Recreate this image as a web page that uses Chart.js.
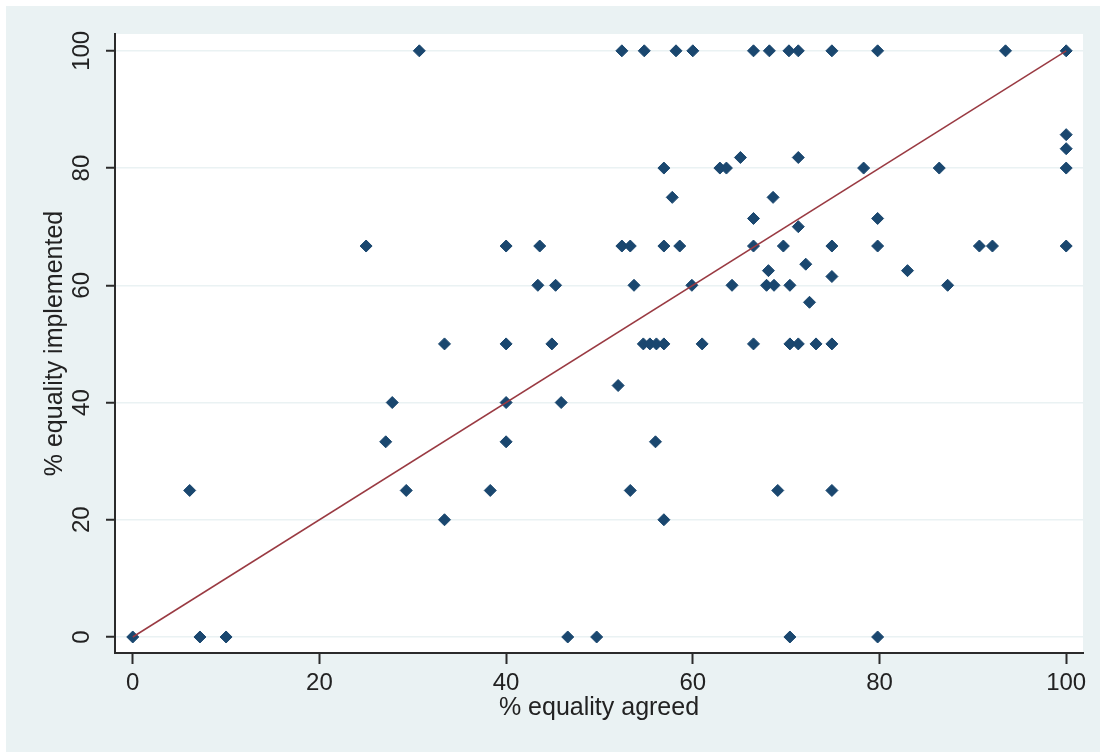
<!DOCTYPE html>
<html>
<head>
<meta charset="utf-8">
<script src="https://cdn.jsdelivr.net/npm/chart.js@4.4.1/dist/chart.umd.min.js"></script>
<style>
  html, body { margin: 0; padding: 0; background: #ffffff; }
  .okvir { position: absolute; left: 6px; top: 6px; width: 1094px; height: 746px; background: #eaf2f3; }
  canvas { display: block; }
</style>
</head>
<body>
<div class="okvir"><canvas id="grafik" width="1094" height="746"></canvas></div>
<script>
// % equality agreed (x) / % equality implemented (y), one entry per country pair
const agreed = [
  30.7, 52.4, 54.8, 58.2, 60, 66.5, 68.2, 70.3, 71.3, 74.9, 79.8, 93.5, 100,
  100, 100,
  65.1, 71.3,
  56.9, 62.9, 63.6, 78.3, 86.4, 100,
  57.8, 68.6,
  66.5, 79.8,
  71.3,
  25, 40, 43.6, 52.4, 53.3, 56.9, 58.6, 66.5, 69.7, 74.9, 79.8, 90.7, 92.1, 100,
  72.1, 68.1, 83.0, 74.9,
  43.4, 45.3, 53.7, 59.9, 64.2, 67.9, 68.7, 70.4, 87.3,
  72.5,
  33.4, 40, 44.9, 54.7, 55.4, 56.1, 56.9, 61.0, 66.5, 70.4, 71.3, 73.2, 74.9,
  52.0,
  27.8, 40, 45.9,
  27.1, 40, 56.0,
  6.1, 29.3, 38.3, 53.3, 69.1, 74.9,
  33.4, 56.9,
  0, 7.2, 10, 46.6, 49.7, 70.4, 79.8
];
const implemented = [
  100, 100, 100, 100, 100, 100, 100, 100, 100, 100, 100, 100, 100,
  85.7, 83.3,
  81.8, 81.8,
  80, 80, 80, 80, 80, 80,
  75, 75,
  71.4, 71.4,
  70,
  66.7, 66.7, 66.7, 66.7, 66.7, 66.7, 66.7, 66.7, 66.7, 66.7, 66.7, 66.7, 66.7, 66.7,
  63.6, 62.5, 62.5, 61.5,
  60, 60, 60, 60, 60, 60, 60, 60, 60,
  57.1,
  50, 50, 50, 50, 50, 50, 50, 50, 50, 50, 50, 50, 50,
  42.9,
  40, 40, 40,
  33.3, 33.3, 33.3,
  25, 25, 25, 25, 25, 25,
  20, 20,
  0, 0, 0, 0, 0, 0, 0
];
// linija jednakosti y = x
const lineX = [0, 100];
const lineY = [0, 100];
const xTicks = [0, 20, 40, 60, 80, 100];
const yTicks = [0, 20, 40, 60, 80, 100];

const font = "'Liberation Sans', Arial, sans-serif";
const tamna = "#2b2b2b";

let tacke = agreed.map((x, i) => ({ x: x, y: implemented[i] }));
let linija = lineX.map((x, i) => ({ x: x, y: lineY[i] }));

// bela povrsina grafika
const belaPozadina = {
  id: "belaPozadina",
  beforeDraw(chart) {
    const { ctx, chartArea: a } = chart;
    ctx.save();
    ctx.fillStyle = "#ffffff";
    ctx.fillRect(a.left, a.top, a.right - a.left, a.bottom - a.top);
    ctx.restore();
  }
};

new Chart(document.getElementById("grafik"), {
  type: "scatter",
  data: {
    datasets: [
      {
        type: "line",
        data: linija,
        borderColor: "#9a3a42",
        borderWidth: 1.5,
        pointRadius: 0,
        fill: false,
        order: 0
      },
      {
        data: tacke,
        pointStyle: "rectRot",
        pointRadius: 6,
        backgroundColor: "#1a476f",
        borderColor: "#1a476f",
        borderWidth: 1,
        order: 1
      }
    ]
  },
  options: {
    responsive: false,
    animation: false,
    events: [],
    layout: { padding: { top: 28, right: 17, left: 0, bottom: 0 } },
    plugins: { legend: { display: false }, tooltip: { enabled: false } },
    scales: {
      x: {
        type: "linear",
        min: -1.9,
        max: 101.8,
        afterBuildTicks: s => { s.ticks = xTicks.map(v => ({ value: v })); },
        afterFit: s => { s.height = 99; },
        border: { display: true, color: tamna, width: 2 },
        grid: { drawOnChartArea: false, drawTicks: true, tickLength: 11, tickColor: tamna, tickWidth: 2 },
        ticks: { font: { family: font, size: 24 }, color: "#222", padding: 5, maxRotation: 0, autoSkip: false },
        title: { display: true, text: "% equality agreed", color: "#222", font: { family: font, size: 25 }, padding: { top: 0, bottom: 29 } }
      },
      y: {
        type: "linear",
        min: -2.73,
        max: 102.87,
        afterBuildTicks: s => { s.ticks = yTicks.map(v => ({ value: v })); },
        afterFit: s => { s.width = 109; },
        border: { display: true, color: tamna, width: 2 },
        grid: { color: "#eaf2f3", lineWidth: 1.5, tickLength: 9, tickColor: tamna, tickWidth: 2 },
        ticks: { font: { family: font, size: 24 }, color: "#222", padding: 4, minRotation: 90, maxRotation: 90, crossAlign: "center", autoSkip: false },
        title: { display: true, text: "% equality implemented", color: "#222", font: { family: font, size: 25 }, padding: { top: 34, bottom: 0 } }
      }
    }
  },
  plugins: [belaPozadina]
});
</script>
</body>
</html>
